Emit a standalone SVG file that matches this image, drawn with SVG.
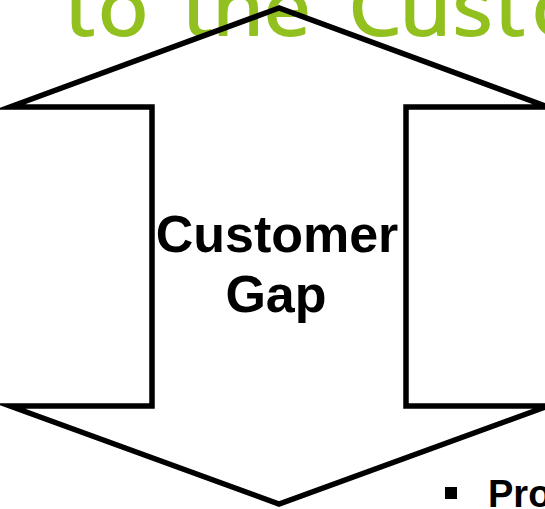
<svg xmlns="http://www.w3.org/2000/svg" width="545" height="509" viewBox="0 0 545 509">
  <style>
    .title { font-family: "Open Sans", "Liberation Sans", sans-serif; font-size: 76px; fill: #92c01f; stroke: #92c01f; stroke-width: 1.8; stroke-linejoin: round; }
    .label { font-family: "Liberation Sans", Arial, sans-serif; font-weight: bold; font-size: 52px; fill: #000; text-anchor: middle; }
    .bullet-text { font-family: "Liberation Sans", Arial, sans-serif; font-weight: bold; font-size: 38px; fill: #000; }
    .arrow { fill: none; stroke: #000; stroke-width: 5.5; stroke-linejoin: miter; stroke-miterlimit: 20; }
  </style>
  <rect width="545" height="509" fill="#fff"/>

  <!-- heading, running off the top edge (slightly widened face) -->
  <g id="heading" transform="scale(1.1,1)">
    <text class="title" y="35"><tspan x="59">t</tspan><tspan x="89">o</tspan><tspan x="166">the</tspan><tspan x="317">C</tspan><tspan x="363.5">u</tspan><tspan x="411.5">s</tspan><tspan x="450">t</tspan><tspan x="483.5">o</tspan></text>
  </g>

  <!-- double-headed block arrow -->
  <g id="customer-gap">
    <polygon class="arrow" points="279,8 10,107 152,107 152,406 10,406 279,504 548,406 406,406 406,107 548,107"/>
    <text class="label" x="277" y="252">Customer</text>
    <text class="label" x="276" y="312">Gap</text>
  </g>

  <!-- bullet line, running off the bottom edge -->
  <g id="bullet">
    <rect x="445" y="487" width="12" height="12" fill="#000"/>
    <text class="bullet-text" x="488" y="507">Pro</text>
  </g>
</svg>
